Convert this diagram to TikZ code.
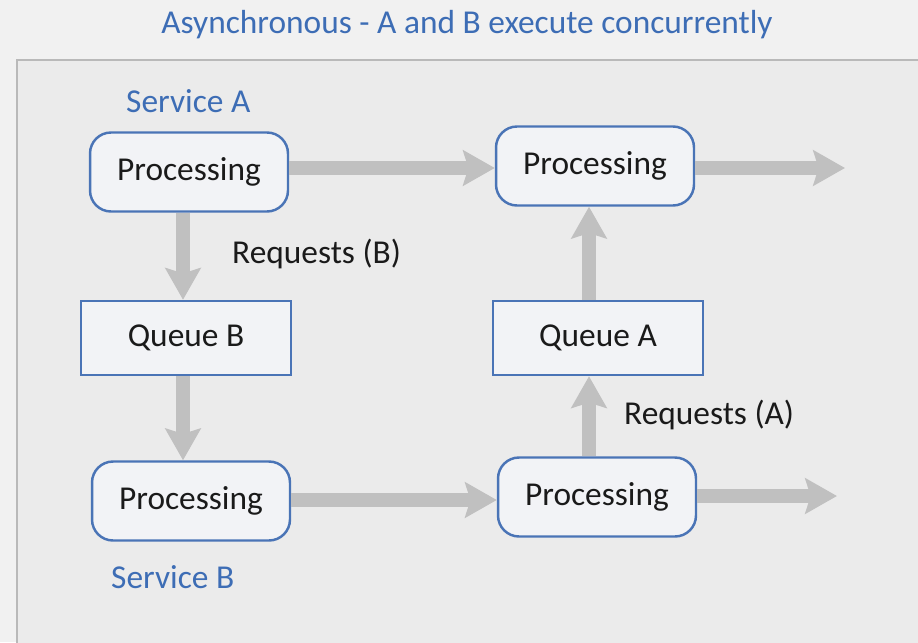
\documentclass[tikz,border=0pt]{standalone}
\usepackage{fontspec}
\setmainfont{Carlito}
\usetikzlibrary{arrows.meta}

\definecolor{pagegray}{HTML}{F1F1F1}
\definecolor{panelgray}{HTML}{EBEBEB}
\definecolor{panelline}{HTML}{B9B9B9}
\definecolor{boxblue}{HTML}{4A74B6}
\definecolor{boxfill}{HTML}{F2F3F6}
\definecolor{flowgray}{HTML}{C0C0C0}
\definecolor{titleblue}{HTML}{3D6DB5}
\definecolor{textdark}{HTML}{1A1A1A}

\begin{document}
\begin{tikzpicture}[x=0.02cm,y=-0.02cm,
		proc/.style={draw=boxblue,line width=1.4pt,fill=boxfill,rounded corners=0.42cm,
			minimum width=3.96cm,minimum height=1.58cm,text=textdark,font=\fontsize{19}{22}\selectfont},
		queue/.style={proc,rounded corners=0pt,minimum width=4.2cm,minimum height=1.48cm},
		flow/.style={draw=flowgray,line width=8pt,-{Stealth[length=18pt,width=20pt,inset=3pt]}},
		service/.style={text=titleblue,anchor=west,font=\fontsize{19}{22}\selectfont},
		note/.style={text=textdark,anchor=west,font=\fontsize{19}{22}\selectfont}]
			\useasboundingbox (0,0) rectangle (918,642);
			\fill[pagegray] (0,0) rectangle (918,642);
			\fill[panelgray] (17,60) rectangle (960,700);
			\draw[panelline,line width=1.2pt] (17,700) -- (17,60) -- (960,60);
			\node[text=titleblue,font=\fontsize{19}{22}\selectfont] (title) at (467,25) {Asynchronous - A and B execute concurrently};
			% service A, top row
			\node[proc] (procA) at (189,172) {Processing};
			\node[proc] (procA2) at (595,166) {Processing};
			\node[queue] (queueB) at (186,338) {Queue B};
			% service B, bottom row
			\node[proc] (procB) at (191,501) {Processing};
			\node[proc] (procB2) at (597,497) {Processing};
			\node[queue] (queueA) at (598,338) {Queue A};
			\node[service] (servA) at (120,101) {Service A};
			\node[service] (servB) at (105,577) {Service B};
			\node[note] (reqB) at (226,254) {Requests (B)};
			\node[note] (reqA) at (618,415) {Requests (A)};
			% shaft positions
			\coordinate (rowA) at (0,168);
			\coordinate (rowB) at (0,500);
			\coordinate (rowB2) at (0,496);
			\coordinate (colB) at (183,0);
			\coordinate (colA) at (589,0);
			\coordinate (outA) at (845,168);
			\coordinate (outB) at (837,496);
			\draw[flow] (procA.east |- rowA) -- (procA2.west |- rowA);
			\draw[flow] (procA2.east |- rowA) -- (outA);
			\draw[flow] (procB.east |- rowB) -- (procB2.west |- rowB);
			\draw[flow] (procB2.east |- rowB2) -- (outB);
			\draw[flow] (procA.south -| colB) -- (queueB.north -| colB);
			\draw[flow] (queueB.south -| colB) -- (procB.north -| colB);
			\draw[flow] (procB2.north -| colA) -- (queueA.south -| colA);
			\draw[flow] (queueA.north -| colA) -- (procA2.south -| colA);
		\end{tikzpicture}
\end{document}
